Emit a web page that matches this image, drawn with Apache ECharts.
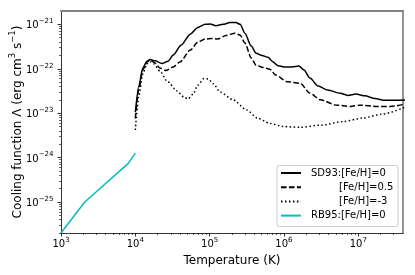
<!DOCTYPE html>
<html><head><meta charset="utf-8">
<script src="https://cdn.jsdelivr.net/npm/echarts@6/dist/echarts.min.js"></script>
<style>html,body{margin:0;padding:0;background:#fff}#c{width:415px;height:275px}</style>
</head><body><div id="c"></div>
<script>
// All values are log10: temperature in K, cooling function in erg cm^3 s^-1
const seriesNames = ['SD93:[Fe/H]=0', '[Fe/H]=0.5', '[Fe/H]=-3', 'RB95:[Fe/H]=0'];

const solarLogT = [4.00,4.05,4.10,4.157,4.20,4.265,4.36,4.44,4.51,4.615,4.74,4.84,4.94,5.005,5.085,5.18,5.275,5.355,5.41,5.475,5.56,5.625,5.705,5.785,5.85,5.92,6.00,6.11,6.20,6.27,6.35,6.46,6.59,6.755,6.86,6.97,7.09,7.225,7.36,7.65];
const solarLogL = [-22.98,-22.37,-21.98,-21.83,-21.79,-21.82,-21.88,-21.83,-21.69,-21.47,-21.22,-21.07,-21.00,-20.99,-21.03,-21.00,-20.96,-20.96,-21.00,-21.20,-21.49,-21.65,-21.70,-21.74,-21.84,-21.93,-21.96,-21.96,-21.94,-22.03,-22.21,-22.39,-22.48,-22.55,-22.60,-22.57,-22.61,-22.67,-22.71,-22.70];

const halfLogT = [4.00,4.05,4.10,4.157,4.20,4.265,4.33,4.41,4.51,4.60,4.74,4.84,4.94,5.03,5.11,5.22,5.34,5.41,5.475,5.56,5.625,5.72,5.81,5.89,6.04,6.22,6.35,6.49,6.71,6.89,7.02,7.25,7.43,7.65];
const halfLogL = [-23.12,-22.44,-22.03,-21.85,-21.80,-21.87,-21.98,-22.04,-21.96,-21.85,-21.58,-21.40,-21.33,-21.32,-21.33,-21.25,-21.20,-21.24,-21.42,-21.76,-21.92,-21.97,-22.01,-22.14,-22.29,-22.33,-22.55,-22.70,-22.82,-22.85,-22.82,-22.85,-22.85,-22.79];

const poorLogT = [4.00,4.05,4.10,4.157,4.20,4.25,4.33,4.43,4.56,4.655,4.71,4.78,4.84,4.925,4.98,5.05,5.14,5.315,5.50,5.64,5.81,5.99,6.22,6.49,6.80,7.06,7.33,7.65];
const poorLogL = [-23.38,-22.59,-22.12,-21.89,-21.84,-21.89,-22.05,-22.28,-22.50,-22.64,-22.68,-22.57,-22.37,-22.22,-22.23,-22.34,-22.52,-22.70,-22.93,-23.11,-23.23,-23.30,-23.32,-23.27,-23.19,-23.11,-23.02,-22.85];

const rb95LogT = [3.0, 3.32, 3.906, 4.0];
const rb95LogL = [-25.70, -25.0, -24.13, -23.90];

const xMajorTicks = [3, 4, 5, 6, 7];
const yMajorTicks = [-25, -24, -23, -22, -21];
const xRange = [3, 7.602];
const yRange = [-25.699, -20.699];

function minorTicks(lo, hi) {
  const out = [];
  for (let n = Math.floor(lo); n <= Math.ceil(hi); n++) {
    for (let k = 2; k <= 9; k++) {
      const v = n + Math.log10(k);
      if (v > lo && v < hi) out.push(v);
    }
  }
  return out;
}
const xMinor = minorTicks(xRange[0], xRange[1]);
const yMinor = minorTicks(yRange[0], yRange[1]);

function pairs(xs, ys) { return xs.map((x, i) => [x, ys[i]]); }

const FONT = 'DejaVu Sans';
const tickRich = {
  b: { fontSize: 10, lineHeight: 13, verticalAlign: 'bottom', fontFamily: FONT, color: '#000' },
  s: { fontSize: 7, verticalAlign: 'top', fontFamily: FONT, color: '#000' }
};
function powLabel(v) {
  const e = Math.round(v);
  return '{b|10}{s|' + (e < 0 ? '\u2212' + (-e) : e) + '}';
}

const blackLine = { color: '#000', width: 0.8 };

const option = {
  animation: false,
  backgroundColor: '#fff',
  grid: { left: 61, right: 12, top: 11, bottom: 42 },
  xAxis: [
    { type: 'value', min: xRange[0], max: xRange[1], position: 'bottom',
      axisLine: { show: true, onZero: false, lineStyle: blackLine },
      axisTick: { show: true, length: 3.5, lineStyle: blackLine, customValues: xMajorTicks },
      axisLabel: { customValues: xMajorTicks, margin: 3.5, formatter: powLabel, rich: tickRich },
      splitLine: { show: false } },
    { type: 'value', min: xRange[0], max: xRange[1], position: 'bottom',
      axisLine: { show: false },
      axisTick: { show: true, length: 2, lineStyle: { color: '#000', width: 0.6 }, customValues: xMinor },
      axisLabel: { show: false }, splitLine: { show: false } },
    { type: 'value', min: xRange[0], max: xRange[1], position: 'top',
      axisLine: { show: true, onZero: false, lineStyle: { color: '#808080', width: 2 } },
      axisTick: { show: false }, axisLabel: { show: false }, splitLine: { show: false } }
  ],
  yAxis: [
    { type: 'value', min: yRange[0], max: yRange[1], position: 'left',
      axisLine: { show: true, onZero: false, lineStyle: blackLine },
      axisTick: { show: true, length: 3.5, lineStyle: blackLine, customValues: yMajorTicks },
      axisLabel: { customValues: yMajorTicks, margin: 7.5, formatter: powLabel, rich: tickRich },
      splitLine: { show: false } },
    { type: 'value', min: yRange[0], max: yRange[1], position: 'left',
      axisLine: { show: false },
      axisTick: { show: true, length: 2, lineStyle: { color: '#000', width: 0.6 }, customValues: yMinor },
      axisLabel: { show: false }, splitLine: { show: false } },
    { type: 'value', min: yRange[0], max: yRange[1], position: 'right',
      axisLine: { show: true, onZero: false, lineStyle: { color: '#808080', width: 1.7 } },
      axisTick: { show: false }, axisLabel: { show: false }, splitLine: { show: false } }
  ],
  legend: {
    orient: 'vertical', left: 280, top: 168, padding: 0,
    itemWidth: 20, itemHeight: 10, itemGap: 4.2, selectedMode: false, z: 6,
    itemStyle: { opacity: 0, color: 'rgba(0,0,0,0)', borderWidth: 0 },
    data: seriesNames,
    formatter: n => n[0] === '[' ? '{b|' + n + '}' : '{a|' + n + '}',
    textStyle: {
      fontSize: 10, color: '#000', fontFamily: FONT,
      rich: {
        a: { fontSize: 10, lineHeight: 10, fontFamily: FONT, color: '#000', padding: [0, 0, 0, 5] },
        b: { fontSize: 10, lineHeight: 10, fontFamily: FONT, color: '#000', padding: [0, 0, 0, 33] }
      }
    }
  },
  graphic: [
    { type: 'rect', z: 5, shape: { x: 277, y: 165.5, width: 121, height: 61, r: 2.5 },
      style: { fill: 'rgba(255,255,255,0.8)', stroke: '#cccccc', lineWidth: 1 } },
    { type: 'text', x: 232, y: 260.5,
      style: { text: 'Temperature (K)', fontSize: 12, fontFamily: FONT, fill: '#000', align: 'center', verticalAlign: 'middle' } },
    { type: 'text', x: 16.25, y: 122, rotation: Math.PI / 2,
      style: {
        text: '{b|Cooling function \u039b (erg cm}{s|3}{b| s}{s|\u22121}{b|)}',
        align: 'center', verticalAlign: 'middle',
        rich: {
          b: { fontSize: 12, lineHeight: 15.5, verticalAlign: 'bottom', fontFamily: FONT, fill: '#000' },
          s: { fontSize: 8.5, verticalAlign: 'top', fontFamily: FONT, fill: '#000' }
        }
      } }
  ],
  series: [
    { name: seriesNames[0], type: 'line', data: pairs(solarLogT, solarLogL), showSymbol: false, symbol: 'none',
      smooth: 0.25, smoothMonotone: 'x', lineStyle: { color: '#000', width: 1.5 }, itemStyle: { color: '#000' } },
    { name: seriesNames[1], type: 'line', data: pairs(halfLogT, halfLogL), showSymbol: false, symbol: 'none',
      smooth: 0.25, smoothMonotone: 'x', lineStyle: { color: '#000', width: 1.5, type: [5.55, 2.4] }, itemStyle: { color: '#000' } },
    { name: seriesNames[2], type: 'line', data: pairs(poorLogT, poorLogL), showSymbol: false, symbol: 'none',
      smooth: 0.25, smoothMonotone: 'x', lineStyle: { color: '#000', width: 1.5, type: [1.5, 2.475] }, itemStyle: { color: '#000' } },
    { name: seriesNames[3], type: 'line', data: pairs(rb95LogT, rb95LogL), showSymbol: false, symbol: 'none',
      lineStyle: { color: '#00bfbf', width: 1.5 }, itemStyle: { color: '#00bfbf' } }
  ]
};
const chart = echarts.init(document.getElementById('c'), null, { renderer: 'canvas' });
chart.setOption(option);
</script></body></html>
